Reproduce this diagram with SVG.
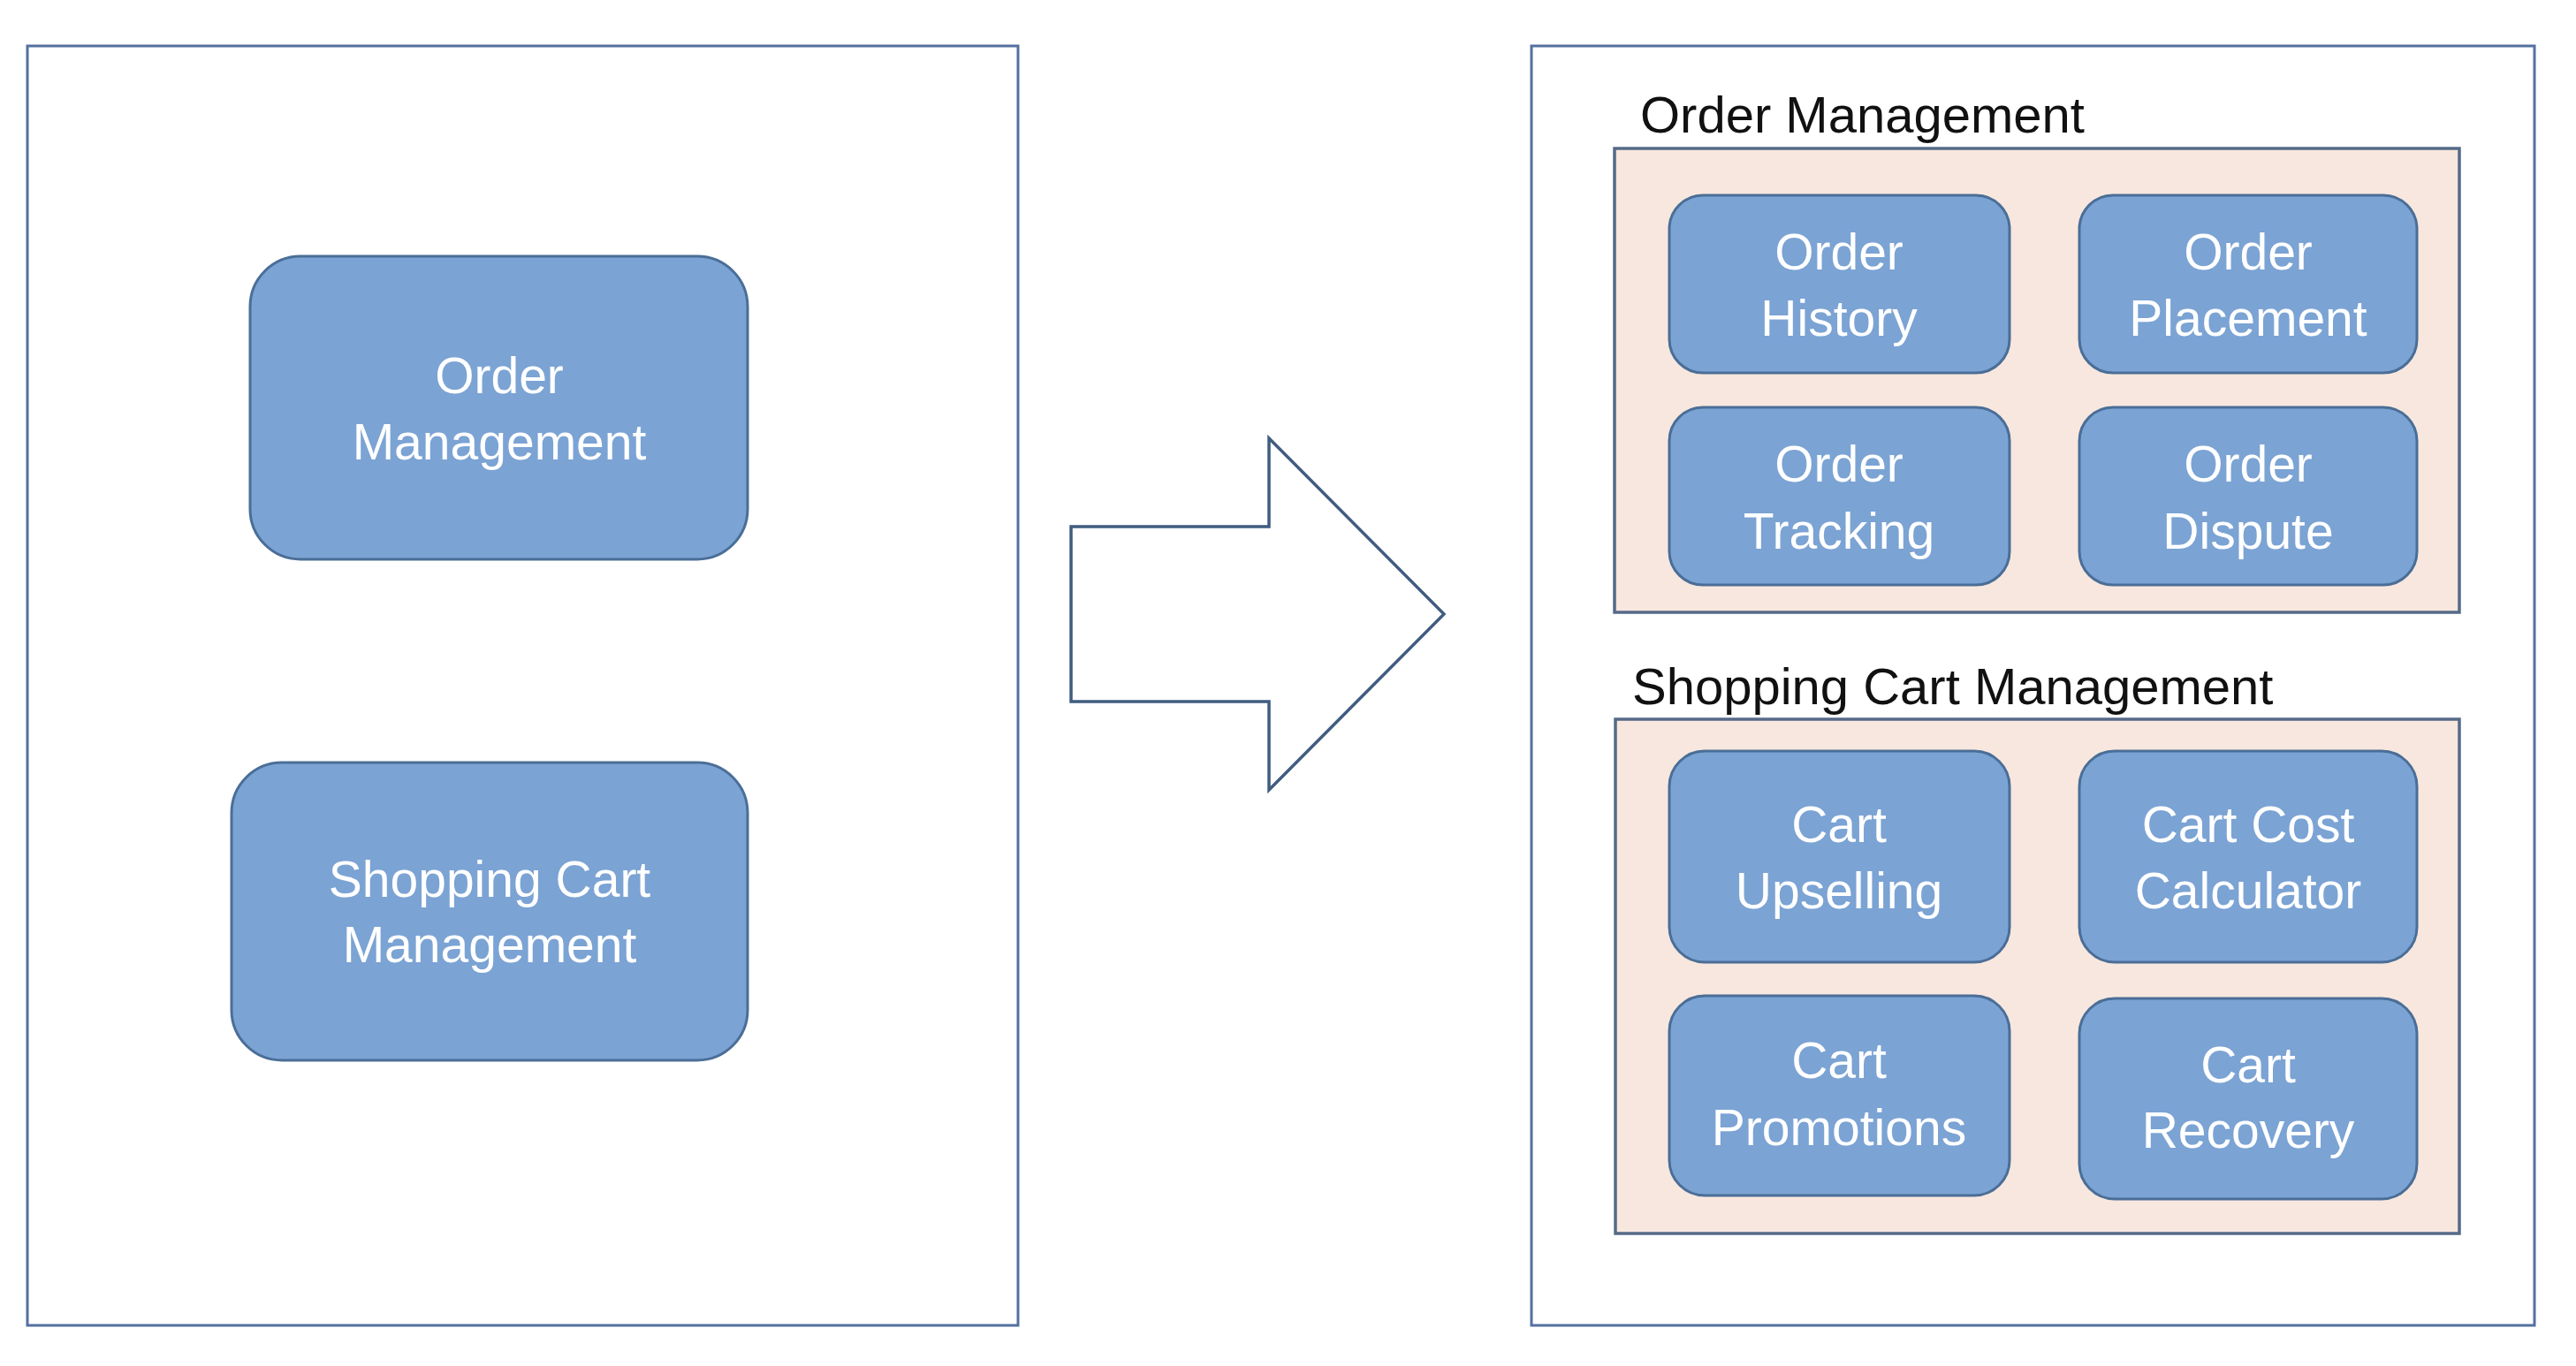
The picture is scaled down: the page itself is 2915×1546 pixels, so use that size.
<svg xmlns="http://www.w3.org/2000/svg" width="2915" height="1546" viewBox="0 0 2915 1546">
  <style>
    .panel { fill: #FFFFFF; stroke: #5470A0; stroke-width: 3; }
    .group { fill: #F8E7DE; stroke: #556A88; stroke-width: 3.5; }
    .node { fill: #7BA3D4; stroke: #4A6E97; stroke-width: 3; }
    .lbl { font-family: "Liberation Sans", Arial, sans-serif; font-size: 57px; fill: #FFFFFF; text-anchor: middle; }
    .title { font-family: "Liberation Sans", Arial, sans-serif; font-size: 58px; fill: #111111; }
    .arrow { fill: #FFFFFF; stroke: #405C80; stroke-width: 3.5; stroke-linejoin: miter; }
  </style>
  <rect x="0" y="0" width="2915" height="1546" fill="#FFFFFF"/>

  <g id="panel-before">
    <rect class="panel" x="31" y="52" width="1121" height="1448"/>
  </g>

  <g id="node-order-management">
    <rect class="node" x="283" y="290" width="563" height="343" rx="57" ry="57"/>
    <text class="lbl" x="565" y="445">Order</text>
    <text class="lbl" x="565" y="520">Management</text>
  </g>

  <g id="node-shopping-cart-management">
    <rect class="node" x="262" y="863" width="584" height="337" rx="57" ry="57"/>
    <text class="lbl" x="554" y="1015">Shopping Cart</text>
    <text class="lbl" x="554" y="1089">Management</text>
  </g>

  <g id="connectors">
    <polygon class="arrow" points="1212,596 1436,596 1436,496 1634,695 1436,894 1436,794 1212,794"/>
  </g>

  <g id="panel-after">
    <rect class="panel" x="1733" y="52" width="1135" height="1448"/>
  </g>

  <g id="group-order-management">
    <text class="title" x="1856" y="150">Order Management</text>
    <rect class="group" x="1827" y="168" width="956" height="525"/>
  </g>

  <g id="node-order-history">
    <rect class="node" x="1889" y="221" width="385" height="201" rx="38" ry="38"/>
    <text class="lbl" x="2081" y="305">Order</text>
    <text class="lbl" x="2081" y="380">History</text>
  </g>
  <g id="node-order-placement">
    <rect class="node" x="2353" y="221" width="382" height="201" rx="38" ry="38"/>
    <text class="lbl" x="2544" y="305">Order</text>
    <text class="lbl" x="2544" y="380">Placement</text>
  </g>
  <g id="node-order-tracking">
    <rect class="node" x="1889" y="461" width="385" height="201" rx="38" ry="38"/>
    <text class="lbl" x="2081" y="545">Order</text>
    <text class="lbl" x="2081" y="621">Tracking</text>
  </g>
  <g id="node-order-dispute">
    <rect class="node" x="2353" y="461" width="382" height="201" rx="38" ry="38"/>
    <text class="lbl" x="2544" y="545">Order</text>
    <text class="lbl" x="2544" y="621">Dispute</text>
  </g>

  <g id="group-shopping-cart-management">
    <text class="title" x="1847" y="797">Shopping Cart Management</text>
    <rect class="group" x="1828" y="814" width="955" height="582"/>
  </g>

  <g id="node-cart-upselling">
    <rect class="node" x="1889" y="850" width="385" height="239" rx="40" ry="40"/>
    <text class="lbl" x="2081" y="953">Cart</text>
    <text class="lbl" x="2081" y="1028">Upselling</text>
  </g>
  <g id="node-cart-cost-calculator">
    <rect class="node" x="2353" y="850" width="382" height="239" rx="40" ry="40"/>
    <text class="lbl" x="2544" y="953">Cart Cost</text>
    <text class="lbl" x="2544" y="1028">Calculator</text>
  </g>
  <g id="node-cart-promotions">
    <rect class="node" x="1889" y="1127" width="385" height="226" rx="40" ry="40"/>
    <text class="lbl" x="2081" y="1220">Cart</text>
    <text class="lbl" x="2081" y="1296">Promotions</text>
  </g>
  <g id="node-cart-recovery">
    <rect class="node" x="2353" y="1130" width="382" height="227" rx="40" ry="40"/>
    <text class="lbl" x="2544" y="1225">Cart</text>
    <text class="lbl" x="2544" y="1299">Recovery</text>
  </g>
</svg>
